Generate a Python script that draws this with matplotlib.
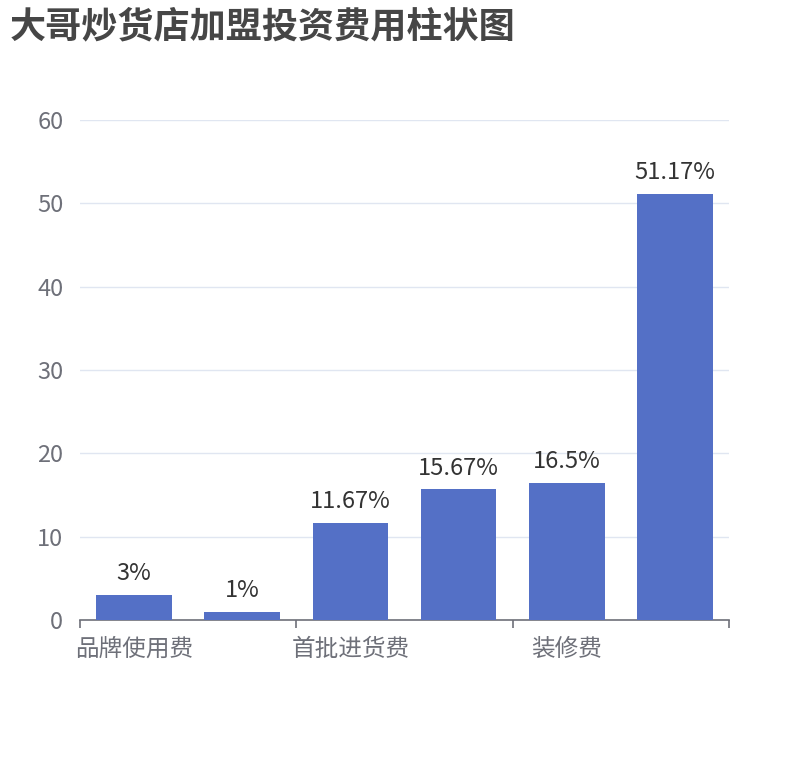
import matplotlib
matplotlib.use("Agg")
import matplotlib.pyplot as plt

plt.rcParams['font.family'] = ['Noto Sans CJK SC', 'DejaVu Sans']

categories = ['品牌使用费', '保证金', '首批进货费', '设备费', '装修费', '房租']
values = [3, 1, 11.67, 15.67, 16.5, 51.17]
value_labels = ['3%', '1%', '11.67%', '15.67%', '16.5%', '51.17%']
y_ticks = [0, 10, 20, 30, 40, 50, 60]

fig = plt.figure(figsize=(8.1, 7.6), dpi=100)
ax = fig.add_axes([80 / 810, 1 - 620 / 760, 649 / 810, 500 / 760])

x = list(range(len(categories)))
bars = ax.bar(x, values, width=0.7, color='#5470c6', zorder=3)
for b, lab in zip(bars, value_labels):
    ax.annotate(lab, (b.get_x() + b.get_width() / 2, b.get_height()),
                xytext=(0, 7), textcoords='offset points',
                ha='center', va='bottom', fontsize=17, color='#333333', zorder=4)

ax.set_xlim(-0.5, len(categories) - 0.5)
ax.set_ylim(0, 60)
ax.set_yticks(y_ticks)
ax.yaxis.grid(True, color='#e0e6f1', linewidth=1, zorder=0)
ax.tick_params(axis='y', length=0, labelsize=17, labelcolor='#6e7079', pad=12)

# ticks at every other band boundary, labels on every other category
ax.set_xticks([-0.5, 1.5, 3.5, 5.5], minor=False)
ax.set_xticklabels([])
ax.tick_params(axis='x', which='major', length=6, color='#6e7079', width=1.2)
ax.set_xticks(x[::2], minor=True)
ax.set_xticklabels(categories[::2], minor=True)
ax.tick_params(axis='x', which='minor', length=0, labelsize=17,
               labelcolor='#6e7079', pad=13)

for s in ['top', 'right', 'left']:
    ax.spines[s].set_visible(False)
ax.spines['bottom'].set_color('#6e7079')
ax.spines['bottom'].set_linewidth(1.2)

fig.text(10 / 810, 1 - 27 / 760, '大哥炒货店加盟投资费用柱状图', fontsize=26,
         fontweight='bold', color='#464646', ha='left', va='center')

fig.savefig('out.png', dpi=100)
